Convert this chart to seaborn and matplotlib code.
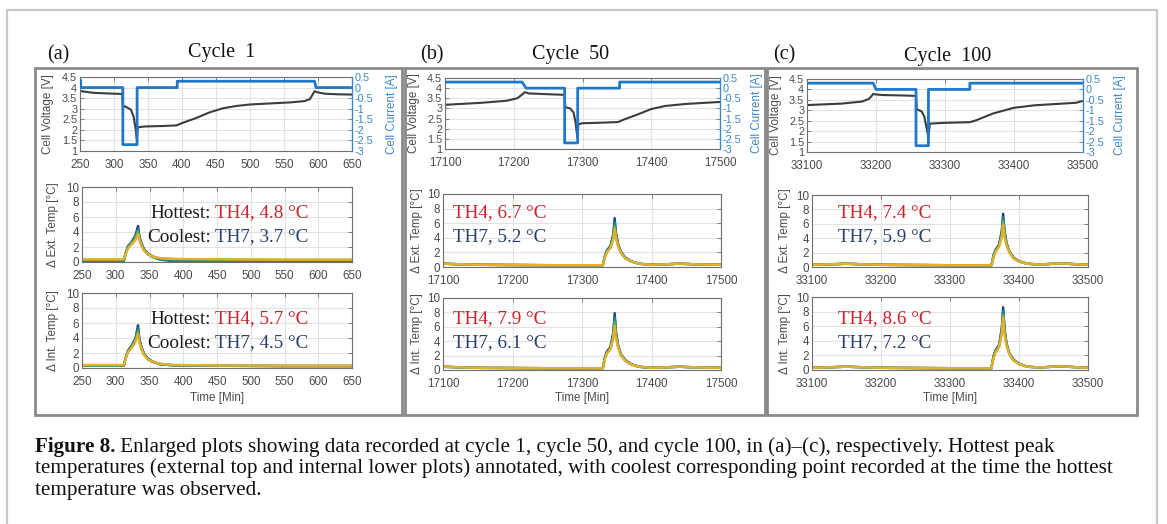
import matplotlib
matplotlib.use("Agg")
import matplotlib.pyplot as plt
import matplotlib.transforms as mtransforms
from matplotlib.patches import Rectangle
from matplotlib.lines import Line2D
import seaborn as sns

sns.set_theme(style="white")
plt.rcParams['font.family'] = ['Liberation Sans', 'DejaVu Sans']
plt.rcParams['axes.unicode_minus'] = False

# ---------------- data ----------------
panel_ids = ['(a)', '(b)', '(c)']
cycle_titles = ['Cycle  1', 'Cycle  50', 'Cycle  100']
x_limits = [(250, 650), (17100, 17500), (33100, 33500)]
x_steps = [50, 100, 100]

# cell voltage [V]
va_t = [250, 270, 300, 312, 313, 318, 325, 329, 332, 333.5, 335, 345, 370, 392, 400, 420,
        440, 460, 480, 500, 530, 560, 580, 588, 595, 600, 610, 630, 650]
va_v = [3.84, 3.75, 3.71, 3.7, 3.15, 3.08, 2.95, 2.6, 2.0, 1.58, 2.12, 2.16, 2.18, 2.21, 2.32, 2.55,
        2.82, 3.02, 3.13, 3.2, 3.25, 3.3, 3.36, 3.45, 3.83, 3.77, 3.71, 3.68, 3.67]
vb_t = [17100, 17150, 17190, 17205, 17212, 17216, 17222, 17250, 17274, 17275, 17282, 17287, 17290,
        17292.5, 17294, 17300, 17330, 17352, 17360, 17380, 17400, 17420, 17450, 17480, 17500]
vb_v = [3.18, 3.27, 3.38, 3.5, 3.68, 3.8, 3.74, 3.7, 3.67, 3.06, 3.0, 2.8, 2.3,
        1.55, 2.22, 2.27, 2.3, 2.33, 2.45, 2.7, 2.97, 3.12, 3.22, 3.28, 3.32]
vc_t = [33100, 33150, 33180, 33190, 33196, 33200, 33210, 33240, 33258, 33259, 33266, 33270, 33273,
        33276, 33278, 33300, 33336, 33345, 33370, 33400, 33430, 33460, 33490, 33500]
vc_v = [3.25, 3.32, 3.42, 3.55, 3.78, 3.76, 3.73, 3.71, 3.69, 3.05, 2.95, 2.7, 2.2,
        1.7, 2.36, 2.4, 2.43, 2.52, 2.85, 3.12, 3.24, 3.3, 3.36, 3.45]

# cell current [A]
ia_t = [250, 251, 251, 313, 313, 334, 334, 393, 393, 595, 597, 650]
ia_i = [0.35, 0.35, 0, 0, -2.7, -2.7, 0, 0, 0.3, 0.3, 0, 0]
ib_t = [17100, 17212, 17218, 17274, 17274, 17293, 17293, 17354, 17354, 17500]
ib_i = [0.3, 0.3, 0, 0, -2.7, -2.7, 0, 0, 0.3, 0.3]
ic_t = [33100, 33196, 33200, 33258, 33258, 33276, 33276, 33336, 33336, 33500]
ic_i = [0.3, 0.3, 0, 0, -2.7, -2.7, 0, 0, 0.3, 0.3]

# thermistor temperature rise [°C], four sensors per plot (hottest first)
ta_t = [250, 300, 312, 315, 318, 323, 329, 333, 335, 338, 342, 348, 356, 366, 385, 450, 550, 650]
ext_a = [
    [0.2, 0.2, 0.2, 1.3, 2.1, 2.6, 3.5, 4.8, 3.4, 2.5, 1.7, 1.1, 0.7, 0.4, 0.2, 0.15, 0.15, 0.15],
    [0.05, 0.05, 0.05, 1.2, 2.0, 2.5, 3.3, 4.4, 3.2, 2.4, 1.6, 1.0, 0.6, 0.3, 0.1, 0.05, 0.05, 0.05],
    [0.3, 0.3, 0.3, 1.2, 1.9, 2.4, 3.1, 4.1, 3.1, 2.3, 1.6, 1.0, 0.7, 0.5, 0.4, 0.35, 0.3, 0.3],
    [0.35, 0.35, 0.35, 1.1, 1.8, 2.3, 2.9, 3.7, 2.9, 2.2, 1.5, 1.0, 0.7, 0.5, 0.4, 0.35, 0.3, 0.3],
]
int_a = [
    [0.3, 0.3, 0.3, 1.5, 2.3, 2.9, 3.9, 5.7, 3.9, 2.8, 1.9, 1.2, 0.8, 0.5, 0.35, 0.3, 0.25, 0.25],
    [0.3, 0.3, 0.3, 1.4, 2.2, 2.8, 3.7, 5.3, 3.7, 2.7, 1.8, 1.2, 0.8, 0.5, 0.35, 0.3, 0.25, 0.25],
    [0.35, 0.35, 0.35, 1.4, 2.2, 2.7, 3.6, 4.9, 3.5, 2.6, 1.8, 1.1, 0.8, 0.55, 0.4, 0.35, 0.3, 0.3],
    [0.4, 0.4, 0.4, 1.3, 2.1, 2.6, 3.4, 4.5, 3.4, 2.5, 1.7, 1.1, 0.8, 0.55, 0.4, 0.35, 0.3, 0.3],
]
tb_t = [17100, 17150, 17250, 17330, 17333, 17336, 17341, 17345, 17347, 17349, 17352, 17356, 17362,
        17370, 17382, 17400, 17440, 17470, 17500]
ext_b = [
    [0.45, 0.3, 0.25, 0.25, 1.5, 2.3, 2.9, 4.5, 6.7, 4.6, 3.1, 2.1, 1.3, 0.8, 0.45, 0.3, 0.45, 0.35, 0.3],
    [0.45, 0.3, 0.25, 0.25, 1.5, 2.2, 2.8, 4.3, 6.2, 4.4, 3.0, 2.0, 1.3, 0.8, 0.45, 0.3, 0.45, 0.35, 0.3],
    [0.45, 0.3, 0.25, 0.25, 1.4, 2.1, 2.7, 4.0, 5.6, 4.1, 2.9, 2.0, 1.2, 0.8, 0.45, 0.3, 0.45, 0.35, 0.3],
    [0.45, 0.3, 0.25, 0.25, 1.3, 2.0, 2.6, 3.8, 5.2, 3.9, 2.8, 1.9, 1.2, 0.75, 0.45, 0.3, 0.45, 0.35, 0.3],
]
int_b = [
    [0.45, 0.3, 0.25, 0.25, 1.8, 2.6, 3.2, 5.2, 7.9, 5.3, 3.4, 2.2, 1.4, 0.85, 0.45, 0.3, 0.45, 0.35, 0.3],
    [0.45, 0.3, 0.25, 0.25, 1.7, 2.5, 3.1, 4.9, 7.3, 5.0, 3.3, 2.1, 1.4, 0.85, 0.45, 0.3, 0.45, 0.35, 0.3],
    [0.45, 0.3, 0.25, 0.25, 1.6, 2.4, 3.0, 4.6, 6.7, 4.7, 3.2, 2.1, 1.3, 0.8, 0.45, 0.3, 0.45, 0.35, 0.3],
    [0.45, 0.3, 0.25, 0.25, 1.5, 2.3, 2.9, 4.3, 6.1, 4.4, 3.1, 2.0, 1.3, 0.8, 0.45, 0.3, 0.45, 0.35, 0.3],
]
tc_t = [33100, 33150, 33200, 33300, 33360, 33363, 33366, 33371, 33375, 33377, 33379, 33382, 33386,
        33392, 33400, 33412, 33430, 33460, 33500]
ext_c = [
    [0.3, 0.45, 0.3, 0.25, 0.25, 1.6, 2.4, 3.1, 5.0, 7.4, 5.1, 3.3, 2.2, 1.3, 0.8, 0.45, 0.35, 0.5, 0.3],
    [0.3, 0.45, 0.3, 0.25, 0.25, 1.5, 2.3, 3.0, 4.7, 6.9, 4.8, 3.2, 2.1, 1.3, 0.8, 0.45, 0.35, 0.5, 0.3],
    [0.3, 0.45, 0.3, 0.25, 0.25, 1.4, 2.2, 2.9, 4.4, 6.4, 4.5, 3.1, 2.1, 1.2, 0.8, 0.45, 0.35, 0.5, 0.3],
    [0.3, 0.45, 0.3, 0.25, 0.25, 1.3, 2.1, 2.8, 4.1, 5.9, 4.2, 3.0, 2.0, 1.2, 0.75, 0.45, 0.35, 0.5, 0.3],
]
int_c = [
    [0.3, 0.45, 0.3, 0.25, 0.25, 1.9, 2.7, 3.4, 5.7, 8.6, 5.8, 3.6, 2.3, 1.4, 0.85, 0.45, 0.35, 0.5, 0.3],
    [0.3, 0.45, 0.3, 0.25, 0.25, 1.8, 2.6, 3.3, 5.4, 8.1, 5.5, 3.5, 2.3, 1.4, 0.85, 0.45, 0.35, 0.5, 0.3],
    [0.3, 0.45, 0.3, 0.25, 0.25, 1.7, 2.5, 3.2, 5.1, 7.6, 5.2, 3.4, 2.2, 1.3, 0.8, 0.45, 0.35, 0.5, 0.3],
    [0.3, 0.45, 0.3, 0.25, 0.25, 1.6, 2.4, 3.1, 4.8, 7.2, 4.9, 3.3, 2.2, 1.3, 0.8, 0.45, 0.35, 0.5, 0.3],
]

# annotated peaks
hot_ext = ['TH4, 4.8 °C', 'TH4, 6.7 °C', 'TH4, 7.4 °C']
cool_ext = ['TH7, 3.7 °C', 'TH7, 5.2 °C', 'TH7, 5.9 °C']
hot_int = ['TH4, 5.7 °C', 'TH4, 7.9 °C', 'TH4, 8.6 °C']
cool_int = ['TH7, 4.5 °C', 'TH7, 6.1 °C', 'TH7, 7.2 °C']

caption_bold = 'Figure 8.'
caption_lines = [
    ' Enlarged plots showing data recorded at cycle 1, cycle 50, and cycle 100, in (a)–(c), respectively. Hottest peak',
    'temperatures (external top and internal lower plots) annotated, with coolest corresponding point recorded at the time the hottest',
    'temperature was observed.',
]

volt_t = [va_t, vb_t, vc_t]
volt_v = [va_v, vb_v, vc_v]
curr_t = [ia_t, ib_t, ic_t]
curr_i = [ia_i, ib_i, ic_i]
temp_t = [ta_t, tb_t, tc_t]
ext_all = [ext_a, ext_b, ext_c]
int_all = [int_a, int_b, int_c]

# ---------------- layout (pixels) ----------------
W, H = 1167, 524
sensor_colors = ['#1d3f78', '#15848c', '#6aa84f', '#e3b02c']
volt_color = '#3c3c3c'
curr_color = '#1f78c8'
curr_tick_color = '#3a86c8'
tick_color = '#4a4a4a'
red = '#d0202a'
navy = '#2a3f6b'
serif = ['Liberation Serif', 'DejaVu Serif']

top_boxes = [(80, 77, 352, 151), (445, 78, 720, 149), (807, 79, 1083, 152)]
ext_boxes = [(82, 187, 352, 262), (443, 194, 721, 267), (812, 195, 1088, 267)]
int_boxes = [(82, 293, 352, 368), (443, 298, 721, 370), (812, 297, 1088, 370)]
panel_boxes = [(35, 68, 402, 415), (405, 68, 765, 415), (767, 68, 1137, 415)]
ylab_top_x = [48, 414, 776]
ylab_right_x = [392, 757, 1120]
ylab_temp_x = [53, 417, 785]
id_x = [58, 432, 784]
title_x = [222, 571, 948]
title_y = [53, 55, 57]
ann_x = [215, 453, 838]

fig = plt.figure(figsize=(W / 100, H / 100), dpi=100)
fig.patch.set_facecolor('white')


def fx(x):
    return x / W


def fy(y):
    return 1 - y / H


def add_ax(box):
    x0, y0, x1, y1 = box
    return fig.add_axes([fx(x0), fy(y1), (x1 - x0) / W, (y1 - y0) / H])


def style_ax(ax, xlim, step, ylim, yticks, ysize=8.4):
    ax.set_xlim(*xlim)
    ax.set_xticks(list(range(xlim[0], xlim[1] + 1, step)))
    ax.set_ylim(*ylim)
    ax.set_yticks(yticks)
    ax.set_yticklabels(['%g' % v for v in yticks])
    ax.set_facecolor('white')
    ax.grid(True, color='#e2e2e2', linewidth=0.8)
    ax.set_axisbelow(True)
    for s in ax.spines.values():
        s.set_color('#6e6e6e')
        s.set_linewidth(0.8)
    ax.tick_params(direction='in', length=3, width=0.6, colors='#6e6e6e',
                   labelcolor=tick_color, labelsize=8.4, pad=2, top=True, right=True)
    ax.tick_params(axis='y', labelsize=ysize)
    ax.tick_params(axis='x', pad=5.5)


def set_ylabel_px(ax, text, xpx, color):
    ax.set_ylabel(text, color=color, fontsize=8.4)
    tr = mtransforms.blended_transform_factory(fig.transFigure, ax.transAxes)
    ax.yaxis.set_label_coords(fx(xpx), 0.5, transform=tr)
    ax.yaxis.label.set_verticalalignment('center')


# outer frame
for xs, ys in [([7, 1157], [10, 10]), ([7, 7], [10, 524]), ([1157, 1157], [10, 524])]:
    fig.add_artist(Line2D([fx(v) for v in xs], [fy(v) for v in ys], color='#c8c8c8', lw=1.6))

for p in range(3):
    x0, y0, x1, y1 = panel_boxes[p]
    fig.add_artist(Rectangle((fx(x0), fy(y1)), (x1 - x0) / W, (y1 - y0) / H,
                             fill=False, edgecolor='#8a8a8a', lw=2.0))
    fig.text(fx(id_x[p]), fy(55), panel_ids[p], family=serif, fontsize=14.5,
             ha='center', va='center', color='#111111')
    fig.text(fx(title_x[p]), fy(title_y[p]), cycle_titles[p], family=serif, fontsize=14.5,
             ha='center', va='center', color='#111111')

    # voltage / current
    ax = add_ax(top_boxes[p])
    style_ax(ax, x_limits[p], x_steps[p], (1, 4.5), [1, 1.5, 2, 2.5, 3, 3.5, 4, 4.5], ysize=7.8)
    ax.tick_params(right=False)
    sns.lineplot(x=volt_t[p], y=volt_v[p], ax=ax, color=volt_color, linewidth=1.5,
                 estimator=None, sort=False, legend=False)
    set_ylabel_px(ax, 'Cell Voltage [V]', ylab_top_x[p], tick_color)
    ax2 = ax.twinx()
    ax2.set_ylim(-3, 0.5)
    ct = [-3, -2.5, -2, -1.5, -1, -0.5, 0, 0.5]
    ax2.set_yticks(ct)
    ax2.set_yticklabels(['%g' % v for v in ct])
    ax2.grid(False)
    for s in ax2.spines.values():
        s.set_visible(False)
    ax2.spines['right'].set_visible(True)
    ax2.spines['right'].set_color(curr_tick_color)
    ax2.spines['right'].set_linewidth(0.9)
    ax2.tick_params(axis='y', direction='in', length=3, width=0.6, colors=curr_tick_color,
                    labelsize=7.8, pad=2)
    sns.lineplot(x=curr_t[p], y=curr_i[p], ax=ax2, color=curr_color, linewidth=2.0,
                 estimator=None, sort=False, legend=False)
    ax2.set_xlim(*x_limits[p])
    ax2.set_ylabel('Cell Current [A]', color=curr_tick_color, fontsize=8.4)
    tr = mtransforms.blended_transform_factory(fig.transFigure, ax2.transAxes)
    ax2.yaxis.set_label_coords(fx(ylab_right_x[p]), 0.5, transform=tr)
    ax2.yaxis.label.set_verticalalignment('center')
    ax.set_xlabel('')

    # external / internal temperature
    for box, series, label in [(ext_boxes[p], ext_all[p], 'Δ Ext. Temp [°C]'),
                               (int_boxes[p], int_all[p], 'Δ Int. Temp [°C]')]:
        axt = add_ax(box)
        style_ax(axt, x_limits[p], x_steps[p], (0, 10), [0, 2, 4, 6, 8, 10])
        for vals, col in zip(series, sensor_colors):
            sns.lineplot(x=temp_t[p], y=vals, ax=axt, color=col, linewidth=1.7,
                         estimator=None, sort=False, legend=False)
        set_ylabel_px(axt, label, ylab_temp_x[p], tick_color)
        axt.set_xlabel('')
    axt.set_xlabel('Time [Min]', color=tick_color, fontsize=8.4)
    tr = mtransforms.blended_transform_factory(axt.transAxes, fig.transFigure)
    axt.xaxis.set_label_coords(0.5, fy(392), transform=tr)

    # annotations
    ys = [(213, 237), (319, 343)]
    for (yh, yc), hot, cool in [(ys[0], hot_ext[p], cool_ext[p]), (ys[1], hot_int[p], cool_int[p])]:
        if p == 0:
            fig.text(fx(211), fy(yh), 'Hottest:', family=serif, fontsize=13.8, color='#1a1a1a',
                     ha='right', va='center')
            fig.text(fx(211), fy(yc), 'Coolest:', family=serif, fontsize=13.8, color='#1a1a1a',
                     ha='right', va='center')
        fig.text(fx(ann_x[p]), fy(yh), hot, family=serif, fontsize=13.8, color=red, va='center')
        fig.text(fx(ann_x[p]), fy(yc), cool, family=serif, fontsize=13.8, color=navy, va='center')

# caption, sized so the second line spans the same width as in the figure
cap_size = 14
cap_y = [452, 473.5, 495]
bold = fig.text(fx(35), fy(cap_y[0]), caption_bold, family=serif, fontsize=cap_size,
                fontweight='bold', color='#111111', va='baseline')
t1 = fig.text(fx(35), fy(cap_y[0]), caption_lines[0], family=serif, fontsize=cap_size,
              color='#111111', va='baseline')
t2 = fig.text(fx(35), fy(cap_y[1]), caption_lines[1], family=serif, fontsize=cap_size,
              color='#111111', va='baseline')
t3 = fig.text(fx(35), fy(cap_y[2]), caption_lines[2], family=serif, fontsize=cap_size,
              color='#111111', va='baseline')
fig.canvas.draw()
r = fig.canvas.get_renderer()
w2 = t2.get_window_extent(r).width
cap_size = cap_size * 1085 / w2
for t in (bold, t1, t2, t3):
    t.set_fontsize(cap_size)
fig.canvas.draw()
bw = bold.get_window_extent(r).width
t1.set_x(fx(35 + bw))

fig.savefig('out.png', dpi=100, facecolor='white')
